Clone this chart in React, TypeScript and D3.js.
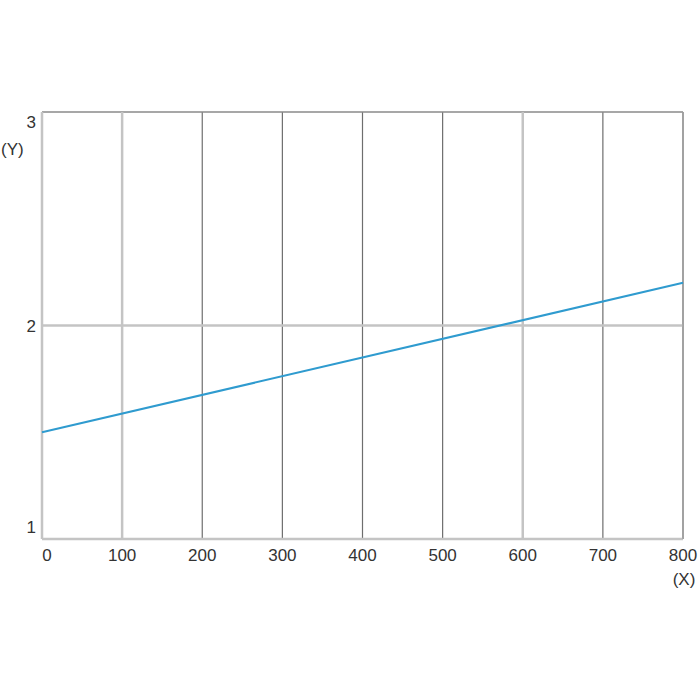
import React from "react";
import * as d3 from "d3";

const xTicks = [0, 100, 200, 300, 400, 500, 600, 700, 800];
const yTicks = [1, 2, 3];
const lightX = [100, 600];
const lineX = [0, 800];
const lineY = [1.5, 2.2];

const W = 700;
const H = 700;
const left = 42;
const right = 683;
const top = 112;
const bottom = 539;
const fs = 17;

const App: React.FC = () => {
  const x = d3.scaleLinear().domain([0, 800]).range([left, right]);
  const y = d3.scaleLinear().domain([1, 3]).range([bottom, top]);

  const line = d3
    .line<number>()
    .x((d) => x(d))
    .y((_, i) => y(lineY[i]));

  // y label offsets: top label sits below the corner, bottom one above the axis
  const yLabelY = (v: number) => (v === 3 ? y(v) + 16 : v === 1 ? y(v) - 6 : y(v) + 6);

  return (
    <svg
      width={W}
      height={H}
      style={{ position: "absolute", left: 0, top: 0, fontFamily: "'Liberation Sans', Arial, sans-serif" }}
    >
      <rect x={0} y={0} width={W} height={H} fill="#fff" />
      {/* dark thin vertical grid */}
      {xTicks
        .filter((t) => t !== 0 && !lightX.includes(t))
        .map((t) => (
          <line key={t} x1={x(t)} x2={x(t)} y1={top} y2={bottom} stroke="#6e6e6e" strokeWidth={1.2} />
        ))}
      {/* top border */}
      <line x1={left} x2={right} y1={top} y2={top} stroke="#8a8a8a" strokeWidth={1.5} />
      {/* light thick lines */}
      {lightX.map((t) => (
        <line key={t} x1={x(t)} x2={x(t)} y1={top} y2={bottom} stroke="#c4c4c4" strokeWidth={2.5} />
      ))}
      <line x1={left} x2={right} y1={y(2)} y2={y(2)} stroke="#c4c4c4" strokeWidth={2.5} />
      <line x1={left} x2={left} y1={top} y2={bottom} stroke="#c4c4c4" strokeWidth={2.5} />
      <line x1={left} x2={right} y1={bottom} y2={bottom} stroke="#c4c4c4" strokeWidth={2.5} />
      <line x1={right} x2={right} y1={top} y2={bottom} stroke="#a0a0a0" strokeWidth={1.5} />

      <path d={line(lineX) ?? ""} fill="none" stroke="#2f9bcf" strokeWidth={2} />

      {yTicks.map((t) => (
        <text key={t} x={36} y={yLabelY(t)} textAnchor="end" fontSize={fs} fill="#333">
          {t}
        </text>
      ))}
      <text x={1} y={155} fontSize={fs} fill="#333">
        (Y)
      </text>
      {xTicks.map((t) => (
        <text
          key={t}
          x={t === 0 ? x(t) + 5 : x(t)}
          y={561}
          textAnchor="middle"
          fontSize={fs}
          fill="#333"
        >
          {t}
        </text>
      ))}
      <text x={684} y={585} textAnchor="middle" fontSize={fs} fill="#333">
        (X)
      </text>
    </svg>
  );
};

export default App;
